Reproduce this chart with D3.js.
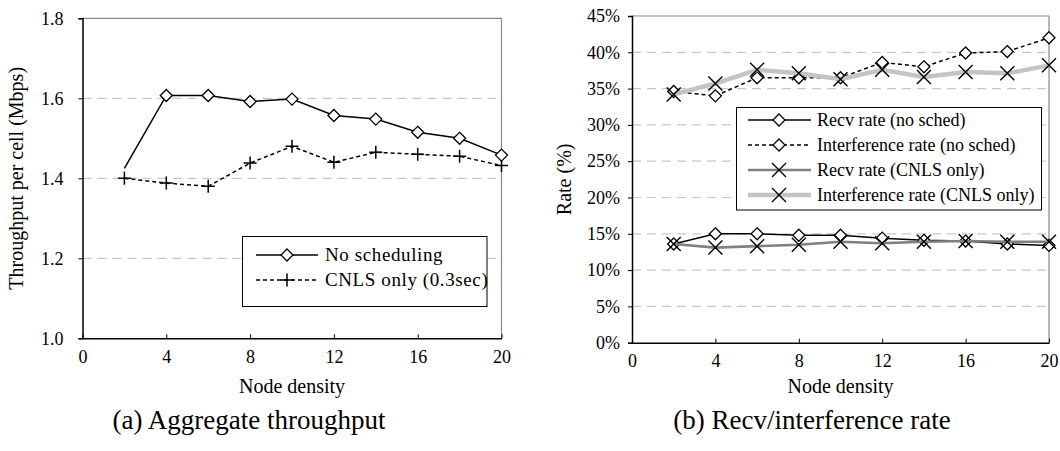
<!DOCTYPE html>
<html>
<head>
<meta charset="utf-8">
<script src="https://cdn.jsdelivr.net/npm/d3@7/dist/d3.min.js"></script>
<style>
  html, body { margin: 0; padding: 0; background: #fff; }
</style>
</head>
<body>
<svg id="fig" width="1060" height="451"></svg>
<script>
const SERIF = '"Liberation Serif"';

// Node densities shared by both panels
const nodeDensity = [2, 4, 6, 8, 10, 12, 14, 16, 18, 20];
const xTicks = [0, 4, 8, 12, 16, 20];

// (a) Aggregate throughput, Mbps per cell
const thrNoSched = [1.425, 1.607, 1.607, 1.592, 1.598, 1.557, 1.548, 1.515, 1.500, 1.458];
const thrCnls    = [1.400, 1.388, 1.380, 1.438, 1.480, 1.440, 1.465, 1.460, 1.455, 1.432];
const thrTicks = [1.0, 1.2, 1.4, 1.6, 1.8];

// (b) Receive / interference rate, %
const recvNoSched  = [13.6, 15.0, 15.0, 14.8, 14.8, 14.4, 14.1, 14.0, 13.6, 13.4];
const intfNoSched  = [34.6, 34.0, 36.5, 36.5, 36.5, 38.6, 38.0, 39.9, 40.1, 42.0];
const recvCnls     = [13.6, 13.1, 13.3, 13.5, 13.9, 13.7, 13.9, 14.0, 13.9, 13.9];
const intfCnls     = [34.2, 35.7, 37.6, 37.1, 36.3, 37.6, 36.6, 37.3, 37.1, 38.2];
const rateTicks = [0, 5, 10, 15, 20, 25, 30, 35, 40, 45];

const svg = d3.select("#fig");

// marker shapes
const diamond = (g, x, y) => g.append("path")
  .attr("d", `M${x},${y - 6}L${x + 6},${y}L${x},${y + 6}L${x - 6},${y}Z`)
  .attr("fill", "#fff").attr("stroke", "#000").attr("stroke-width", 1.3);
const plus = (g, x, y) => g.append("path")
  .attr("d", `M${x - 6.5},${y}H${x + 6.5}M${x},${y - 6.5}V${y + 6.5}`)
  .attr("fill", "none").attr("stroke", "#000").attr("stroke-width", 1.5);
const cross = (g, x, y) => g.append("path")
  .attr("d", `M${x - 7},${y - 7}L${x + 7},${y + 7}M${x - 7},${y + 7}L${x + 7},${y - 7}`)
  .attr("fill", "none").attr("stroke", "#000").attr("stroke-width", 1.4);

function styleAxis(a) {
  a.attr("font-size", 18);
  a.select(".domain").attr("stroke", "#000").attr("stroke-width", 1.5);
  a.selectAll(".tick line").attr("stroke", "#000");
  a.selectAll("text").attr("fill", "#000");
}

function panel(opt) {
  const { x0, x1, y0, y1, yDomain, yTickVals, yFmt, yPad, yTitle, yTitleX, caption } = opt;
  const x = d3.scaleLinear().domain([0, 20]).range([x0, x1]);
  const y = d3.scaleLinear().domain(yDomain).range([y1, y0]);
  const g = svg.append("g");

  // horizontal grid
  g.append("g").selectAll("line")
    .data(yTickVals.filter(v => v !== yDomain[0] && v !== yDomain[1]))
    .join("line")
    .attr("x1", x0).attr("x2", x1)
    .attr("y1", d => y(d)).attr("y2", d => y(d))
    .attr("stroke", "#c8c8c8").attr("stroke-width", 1.2)
    .attr("stroke-dasharray", "9,6");

  // top and right frame
  g.append("path")
    .attr("d", `M${x0},${y0}H${x1}V${y1}`)
    .attr("fill", "none").attr("stroke", "#888").attr("stroke-width", 1.2);

  // y axis
  const ya = d3.axisLeft(y).tickValues(yTickVals).tickFormat(yFmt).tickSize(4).tickPadding(yPad);
  g.append("g").attr("transform", `translate(${x0},0)`).call(ya).call(styleAxis);

  // x axis, ticks pointing into the plot
  const xa = d3.axisBottom(x).tickValues(xTicks).tickFormat(d3.format("d")).tickSize(-4).tickSizeOuter(0).tickPadding(12);
  g.append("g").attr("transform", `translate(0,${y1})`).call(xa).call(styleAxis);

  // axis titles
  g.append("text").attr("x", (x0 + x1) / 2).attr("y", 393)
    .attr("text-anchor", "middle").attr("font-size", 20).text("Node density");
  g.append("text")
    .attr("transform", `translate(${yTitleX},${(y0 + y1) / 2}) rotate(-90)`)
    .attr("text-anchor", "middle").attr("font-size", 20).text(yTitle);

  // caption
  g.append("text").attr("x", opt.capX).attr("y", 429)
    .attr("text-anchor", "middle").attr("font-size", 27).text(caption);

  return { g, x, y };
}

// ---------- (a) ----------
const A = panel({
  x0: 82.5, x1: 501.5, y0: 18.3, y1: 338.3,
  yDomain: [1.0, 1.8], yTickVals: thrTicks, yFmt: d3.format(".1f"), yPad: 15,
  yTitle: "Throughput per cell (Mbps)", yTitleX: 23,
  caption: "(a) Aggregate throughput", capX: 249
});
const lineA = d3.line().x((d, i) => A.x(nodeDensity[i])).y(d => A.y(d));
A.g.append("path").attr("d", lineA(thrCnls)).attr("fill", "none")
  .attr("stroke", "#000").attr("stroke-width", 1.5).attr("stroke-dasharray", "4,3");
A.g.append("path").attr("d", lineA(thrNoSched)).attr("fill", "none")
  .attr("stroke", "#000").attr("stroke-width", 1.5);
thrCnls.forEach((v, i) => plus(A.g, A.x(nodeDensity[i]), A.y(v)));
thrNoSched.forEach((v, i) => { if (i > 0) diamond(A.g, A.x(nodeDensity[i]), A.y(v)); });

// legend (a)
const legA = A.g.append("g");
legA.append("rect").attr("x", 242.5).attr("y", 236.5).attr("width", 244.5).attr("height", 70)
  .attr("fill", "#fff").attr("stroke", "#000").attr("stroke-width", 1);
const legAItems = [
  { label: "No scheduling", dash: null, mark: diamond, y: 255 },
  { label: "CNLS only (0.3sec)", dash: "4,3", mark: plus, y: 280 }
];
legAItems.forEach(it => {
  legA.append("line").attr("x1", 256).attr("x2", 318).attr("y1", it.y).attr("y2", it.y)
    .attr("stroke", "#000").attr("stroke-width", 1.5).attr("stroke-dasharray", it.dash);
  it.mark(legA, 287, it.y);
  legA.append("text").attr("x", 325).attr("y", it.y + 6).attr("font-size", 19)
    .attr("letter-spacing", 0.6).text(it.label);
});

// ---------- (b) ----------
const B = panel({
  x0: 632, x1: 1049, y0: 16, y1: 342.7,
  yDomain: [0, 45], yTickVals: rateTicks, yFmt: d => d + "%", yPad: 8,
  yTitle: "Rate (%)", yTitleX: 571,
  caption: "(b) Recv/interference rate", capX: 812
});
const lineB = d3.line().x((d, i) => B.x(nodeDensity[i])).y(d => B.y(d));
const seriesB = [
  { label: "Recv rate (no sched)", values: recvNoSched, color: "#000", width: 1.5, dash: null, mark: diamond },
  { label: "Interference rate (no sched)", values: intfNoSched, color: "#000", width: 1.5, dash: "4,3", mark: diamond },
  { label: "Recv rate (CNLS only)", values: recvCnls, color: "#808080", width: 2.6, dash: null, mark: cross },
  { label: "Interference rate (CNLS only)", values: intfCnls, color: "#c4c4c4", width: 4.5, dash: null, mark: cross }
];
seriesB.forEach(s => {
  B.g.append("path").attr("d", lineB(s.values)).attr("fill", "none")
    .attr("stroke", s.color).attr("stroke-width", s.width).attr("stroke-dasharray", s.dash);
  s.values.forEach((v, i) => s.mark(B.g, B.x(nodeDensity[i]), B.y(v)));
});

// legend (b)
const legB = B.g.append("g");
legB.append("rect").attr("x", 736.5).attr("y", 107.5).attr("width", 305).attr("height", 102.5)
  .attr("fill", "#fff").attr("stroke", "#000").attr("stroke-width", 1);
seriesB.forEach((s, i) => {
  const ly = 120 + i * 25;
  legB.append("line").attr("x1", 748).attr("x2", 811).attr("y1", ly).attr("y2", ly)
    .attr("stroke", s.color).attr("stroke-width", s.width).attr("stroke-dasharray", s.dash);
  s.mark(legB, 779, ly);
  legB.append("text").attr("x", 817).attr("y", ly + 6).attr("font-size", 18).text(s.label);
});

// all text in the figure uses a Times-style serif face
svg.selectAll("text").style("font-family", SERIF);
</script>
</body>
</html>
